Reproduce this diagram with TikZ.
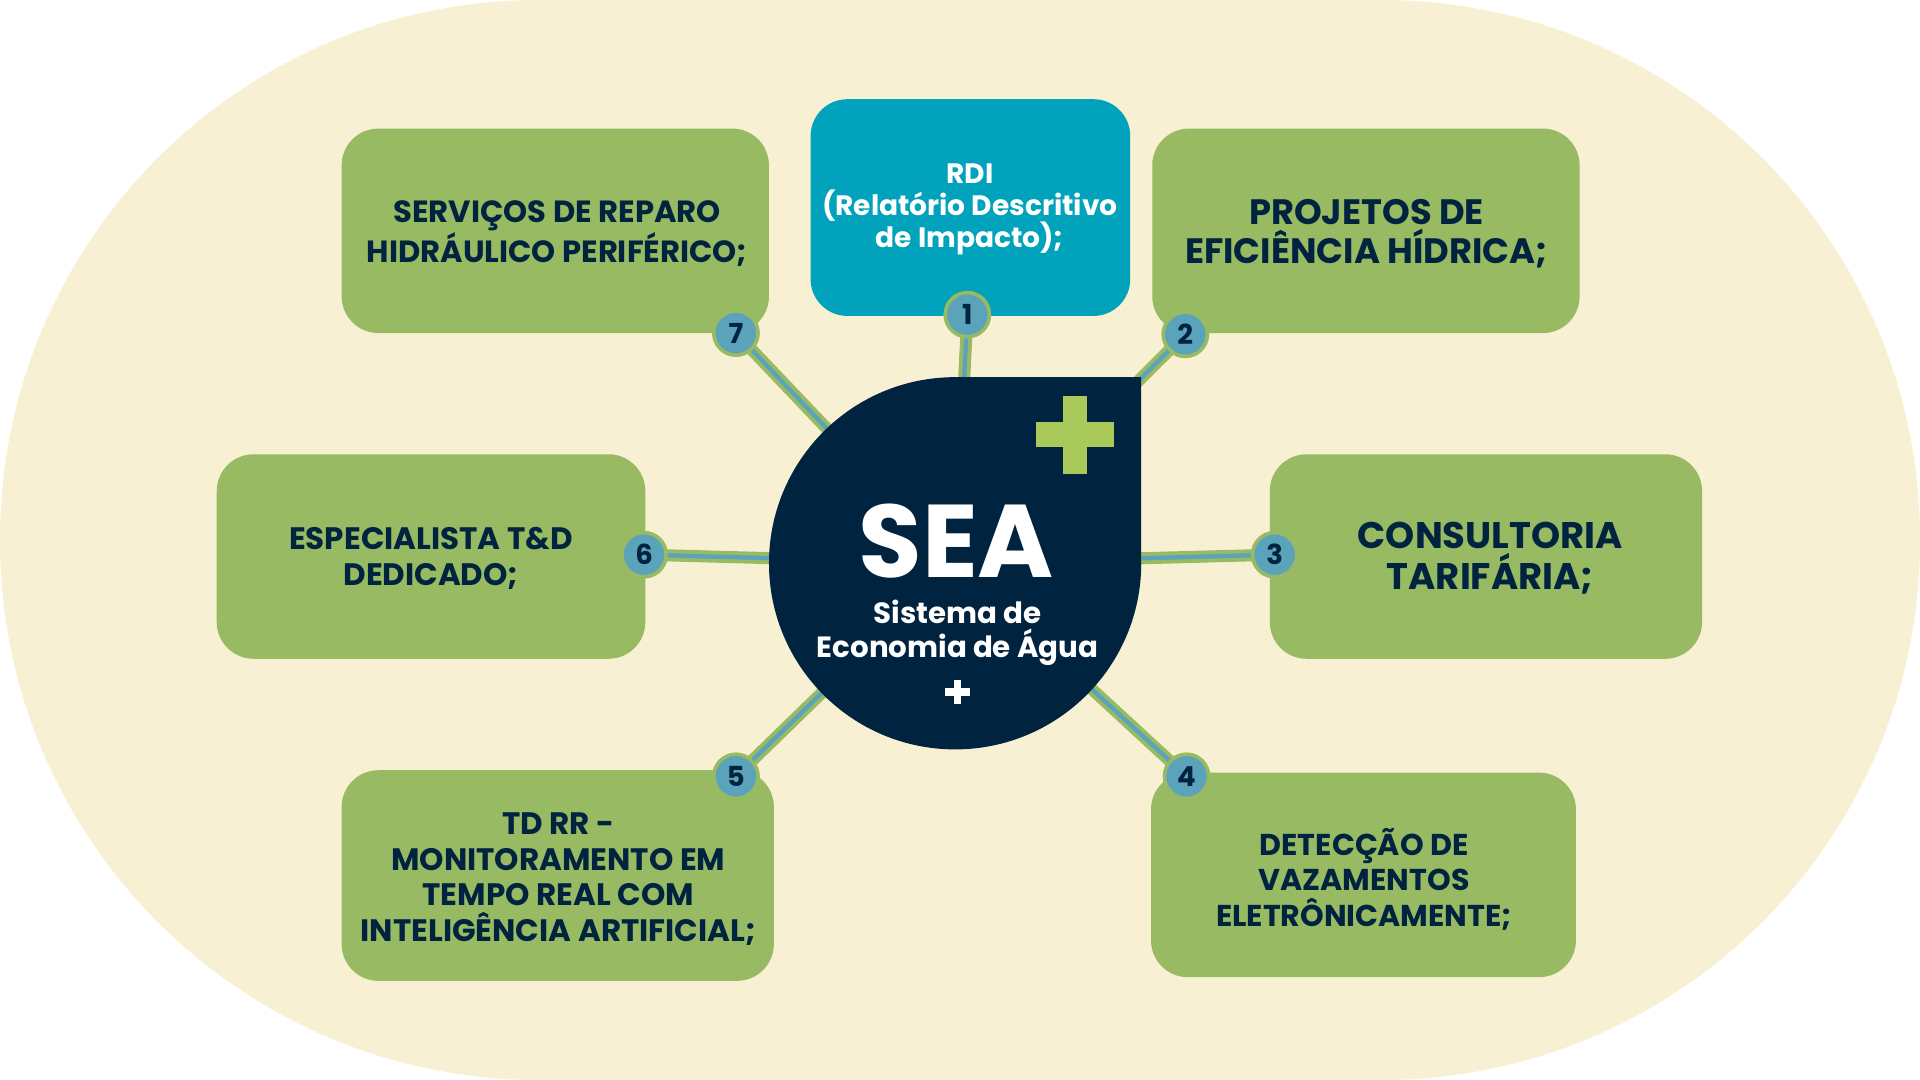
\documentclass[tikz,border=0pt]{standalone}
\usepackage{fontspec}
\setmainfont{Poppins}
\definecolor{bg}{HTML}{F8F0D2}
\definecolor{gbox}{HTML}{97BA62}
\definecolor{teal}{HTML}{00A3BB}
\definecolor{navy}{HTML}{002340}
\definecolor{nblue}{HTML}{5BA3BB}
\definecolor{plusg}{HTML}{A9C95A}
\begin{document}
\begin{tikzpicture}[x=0.025cm,y=-0.025cm,
  box/.style={fill=gbox,rounded corners=0.75cm},
  num/.style={circle,fill=nblue,draw=gbox,line width=2pt,minimum size=0.9cm,inner sep=0pt,text=navy,font=\bfseries\fontsize{16}{16}\selectfont},
  conn/.style={draw=gbox,line width=7pt},
  connin/.style={draw=nblue,line width=2.5pt}]
\useasboundingbox (0,0) rectangle (1568,882);
\fill[bg,rounded corners=11cm] (0,0) rectangle (1568,882);
\coordinate (c) at (780,460);
% boxes
\fill[box] (279,105) rectangle (628,272);
\node[text=navy,font=\bfseries\fontsize{17.8}{19.5}\selectfont,align=center] (t7) at (455,191) {SERVIÇOS DE REPARO\\HIDRÁULICO PERIFÉRICO;};
\fill[teal,rounded corners=0.75cm] (662,81) rectangle (923,258);
\node[text=white,font=\bfseries\fontsize{16.3}{18.6}\selectfont,align=center] (t1) at (792,171) {RDI\\(Relatório Descritivo\\de Impacto);};
\fill[box] (941,105) rectangle (1290,272);
\node[text=navy,font=\bfseries\fontsize{20.5}{22.5}\selectfont,align=center] (t2) at (1116,191) {PROJETOS DE\\EFICIÊNCIA HÍDRICA;};
\fill[box] (177,371) rectangle (527,538);
\node[text=navy,font=\bfseries\fontsize{18}{21}\selectfont,align=center] (t6) at (352,456) {ESPECIALISTA T\&D\\DEDICADO;};
\fill[box] (1037,371) rectangle (1390,538);
\node[text=navy,font=\bfseries\fontsize{21.5}{24}\selectfont,align=center] (t3) at (1217,456) {CONSULTORIA\\TARIFÁRIA;};
\fill[box] (279,629) rectangle (632,801);
\node[text=navy,font=\bfseries\fontsize{18}{20.8}\selectfont,align=center] (t5) at (456,718) {TD RR -\\MONITORAMENTO EM\\TEMPO REAL COM\\INTELIGÊNCIA ARTIFICIAL;};
\fill[box] (940,631) rectangle (1287,798);
\node[text=navy,font=\bfseries\fontsize{17.5}{20.5}\selectfont,align=center] (t4) at (1114,718) {DETECÇÃO DE\\VAZAMENTOS\\ELETRÔNICAMENTE;};
% number nodes (positions)
\node[num] (n1) at (790,257) {};
\node[num] (n2) at (968,273) {};
\node[num] (n3) at (1041,453) {};
\node[num] (n4) at (969,634) {};
\node[num] (n5) at (601,634) {};
\node[num] (n6) at (526,453) {};
\node[num] (n7) at (601,272) {};
% connectors
\foreach \n in {n1,n2,n3,n4,n5,n6,n7}{\path[conn] (c) -- (\n.center);}
\foreach \n in {n1,n2,n3,n4,n5,n6,n7}{\path[connin] (c) -- (\n.center);}
\node[num] at (n1) {1};
\node[num] at (n2) {2};
\node[num] at (n3) {3};
\node[num] at (n4) {4};
\node[num] at (n5) {5};
\node[num] at (n6) {6};
\node[num] at (n7) {7};
% center shape
\fill[navy] (932,308) -- (932,460) arc[start angle=0,end angle=270,radius=152] -- cycle;
\fill[plusg] (868,323) rectangle (888,387);
\fill[plusg] (846,345) rectangle (910,365);
\node[text=white,font=\bfseries\fontsize{60}{60}\selectfont,inner sep=0pt] (sea) at (781,442) {SEA};
\node[text=white,font=\bfseries\fontsize{17}{20}\selectfont,align=center,inner sep=0pt] (sub) at (782,517) {Sistema de\\Economia de Água};
\fill[white] (779,555) rectangle (785,575);
\fill[white] (772,562) rectangle (792,568);
\end{tikzpicture}
\end{document}
